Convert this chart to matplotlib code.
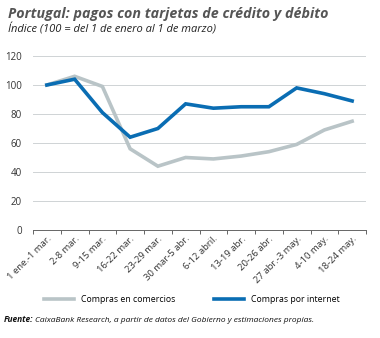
import matplotlib.pyplot as plt
import numpy as np

# datos
semanas = ['1 ene.-1 mar.', '2-8 mar.', '9-15 mar.', '16-22 mar.', '23-29 mar.',
           '30 mar-5 abr.', '6-12 abril.', '13-19 abr.', '20-26 abr.',
           '27 abr.-3 may.', '4-10 may.', '18-24 may.']
comercios = [100, 106, 99, 56, 44, 50, 49, 51, 54, 59, 69, 75]
internet = [100, 104, 81, 64, 70, 87, 84, 85, 85, 98, 94, 89]

plt.rcParams['font.family'] = ['Open Sans', 'DejaVu Sans']

fig = plt.figure(figsize=(3.8, 3.38), dpi=100)
ax = fig.add_axes([33/380, 1 - 230/338, 333/380, 174/338])

x = np.arange(len(semanas))
l1, = ax.plot(x, comercios, color='#b9c4c7', lw=2.6, solid_joinstyle='miter')
l2, = ax.plot(x, internet, color='#0a6db3', lw=2.6, solid_joinstyle='miter')

ax.set_xlim(-0.5, len(semanas) - 0.5)
ax.set_ylim(0, 120)
ax.set_yticks(range(0, 121, 20))
ax.tick_params(axis='y', length=0, labelsize=7, colors='#333333', pad=8)
for v in range(20, 121, 20):
    ax.axhline(v, color='#cfd3d5', lw=0.7, zorder=0)

# eje x: marcas entre categorías
ax.set_xticks(np.arange(len(semanas) + 1) - 0.5, minor=False)
ax.set_xticklabels([])
ax.tick_params(axis='x', length=3, width=0.7, color='#666666', direction='out')
ax.set_xticks(x, minor=True)
ax.set_xticklabels(semanas, minor=True, rotation=45, ha='right',
                   rotation_mode='anchor', fontsize=6.8, color='#333333')
ax.tick_params(axis='x', which='minor', length=0, pad=3)

for s in ['top', 'right', 'left']:
    ax.spines[s].set_visible(False)
ax.spines['bottom'].set_color('#666666')
ax.spines['bottom'].set_linewidth(0.7)

fig.legend([l1, l2], ['Compras en comercios', 'Compras por internet'],
           loc='center', bbox_to_anchor=(0.505, 1 - 300/338), ncol=2,
           frameon=False, fontsize=6.3, handlelength=3.4, columnspacing=4.5,
           handletextpad=0.8)

fig.text(8/380, 1 - 14/338, 'Portugal: pagos con tarjetas de crédito y débito',
         fontsize=10.3, fontweight='bold', style='italic', color='#555555', va='center')
fig.text(8/380, 1 - 30/338, 'Índice (100 = del 1 de enero al 1 de marzo)',
         fontsize=8, style='italic', color='#222222', va='center')
t = fig.text(4/380, 1 - 320/338, 'Fuente:', fontsize=6, fontweight='bold',
             style='italic', color='#111111', va='center')
fig.canvas.draw()
bb = t.get_window_extent()
fig.text(bb.x1 / 380 + 0.005, 1 - 320/338,
         'CaixaBank Research, a partir de datos del Gobierno y estimaciones propias.',
         fontsize=6, style='italic', color='#111111', va='center')

fig.savefig('out.png', dpi=100)
